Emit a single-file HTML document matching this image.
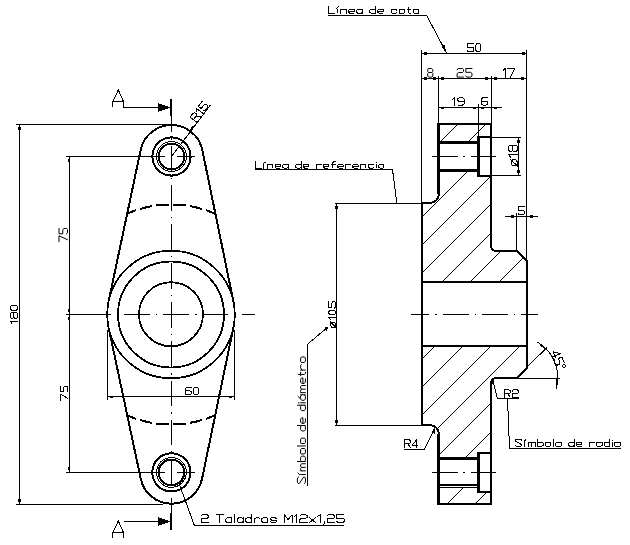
<!DOCTYPE html>
<html><head><meta charset="utf-8"><style>
html,body{margin:0;padding:0;background:#fff;}
svg{display:block;}
text{font-family:"Liberation Sans",sans-serif;fill:#000;stroke:none;}
</style></head><body>
<svg width="630" height="545" viewBox="0 0 630 545" stroke="#000" stroke-linecap="butt" shape-rendering="crispEdges">
<circle cx="171.0" cy="314.5" r="63.75" stroke-width="1.8" fill="none" />
<circle cx="171.0" cy="314.5" r="53" stroke-width="1.8" fill="none" />
<circle cx="171.0" cy="314.25" r="32" stroke-width="1.8" fill="none" />
<circle cx="171.5" cy="156.5" r="19.1" stroke-width="2" fill="none" />
<circle cx="171.5" cy="156.5" r="12.8" stroke-width="2" fill="none" />
<circle cx="171.5" cy="156.5" r="14.9" stroke-width="1" fill="none" />
<circle cx="171.4" cy="472.4" r="19.1" stroke-width="2" fill="none" />
<circle cx="171.4" cy="472.4" r="12.8" stroke-width="2" fill="none" />
<circle cx="171.4" cy="472.4" r="14.9" stroke-width="1" fill="none" />
<path d="M108.63,301.29 L140.68,149.97 A31.5,31.5 0 0 1 202.36,150.17 L233.45,301.69" stroke-width="2" fill="none" stroke-linejoin="round"/>
<path d="M108.64,327.76 L140.78,478.91 A31.3,31.3 0 0 0 202.05,478.75 L233.42,327.44" stroke-width="2" fill="none" stroke-linejoin="round"/>
<path d="M127.21,213.59 A110,110 0 0 1 215.43,213.87" stroke-width="2" fill="none" stroke-dasharray="12.5 4.2" stroke-dashoffset="2.96"/>
<path d="M127.29,415.44 A110,110 0 0 0 215.22,415.22" stroke-width="2" fill="none" stroke-dasharray="12.5 4.2" stroke-dashoffset="3.05"/>
<line x1="171.5" y1="115.5" x2="171.5" y2="513.5" stroke-width="1" stroke-dasharray="25.6 6 1.5 6" stroke-dashoffset="8.7"/>
<line x1="171" y1="99" x2="171" y2="115.5" stroke-width="2" />
<line x1="171" y1="513.3" x2="171" y2="529.8" stroke-width="2" />
<line x1="65.6" y1="314.5" x2="108" y2="314.5" stroke-width="1" />
<line x1="107" y1="314.5" x2="255" y2="314.5" stroke-width="1" stroke-dasharray="25.6 6 1.5 6" stroke-dashoffset="21.8"/>
<line x1="66" y1="156.5" x2="165" y2="156.5" stroke-width="1" />
<line x1="177" y1="156.5" x2="195" y2="156.5" stroke-width="1" />
<line x1="66" y1="472.5" x2="165" y2="472.5" stroke-width="1" />
<line x1="177" y1="472.5" x2="195" y2="472.5" stroke-width="1" />
<line x1="16" y1="124.5" x2="171" y2="124.5" stroke-width="1" />
<line x1="16" y1="504.5" x2="163" y2="504.5" stroke-width="1" />
<line x1="19.5" y1="124.5" x2="19.5" y2="504.5" stroke-width="1" />
<rect x="18" y="127" width="3" height="3" fill="#000" stroke="none"/>
<rect x="18" y="499" width="3" height="3" fill="#000" stroke="none"/>
<line x1="69.5" y1="156.5" x2="69.5" y2="472.5" stroke-width="1" />
<rect x="68" y="159" width="2" height="3" fill="#000" stroke="none"/>
<rect x="68" y="309" width="2" height="3" fill="#000" stroke="none"/>
<rect x="68" y="317" width="2" height="3" fill="#000" stroke="none"/>
<rect x="68" y="467" width="2" height="3" fill="#000" stroke="none"/>
<line x1="107.5" y1="330" x2="107.5" y2="400" stroke-width="1" />
<line x1="234.5" y1="330" x2="234.5" y2="400" stroke-width="1" />
<line x1="107.5" y1="396.5" x2="234.5" y2="396.5" stroke-width="1" />
<rect x="110" y="396" width="3" height="2" fill="#000" stroke="none"/>
<rect x="229" y="396" width="3" height="2" fill="#000" stroke="none"/>
<line x1="171.5" y1="156.5" x2="210.5" y2="105" stroke-width="1" />
<line x1="190.5" y1="130.5" x2="193.5" y2="126.5" stroke-width="2" />
<path d="M112.5,106.5 V101.5 H123.5 M112.8,101.5 L118.3,90 L123.5,101.5 V107.5 H158" stroke-width="1" fill="none" />
<polygon points="158.00,103.00 161.00,104.20 170.50,107.50 161.00,110.80 158.00,112.00" fill="#000" stroke="none"/>
<path d="M112.5,537.5 V532.5 H123.5 M112.8,532.5 L118.3,521 L123.5,532.5 V537.5 M123.5,521.5 H158" stroke-width="1" fill="none" />
<polygon points="158.00,517.00 161.00,518.20 170.50,521.50 161.00,524.80 158.00,526.00" fill="#000" stroke="none"/>
<path d="M179.6,485 L194.4,525.5 H344" stroke-width="1" fill="none" />
<path d="M439,124 H491 V246 A5,5 0 0 0 496,251 H517 L527,261 V368 L517,378 H496 A5,5 0 0 0 491,383 V504 H439 V434.2 A9.2,9.2 0 0 0 429.8,425 H422 V203 H429.8 A9.2,9.2 0 0 0 439,193.8 Z" stroke-width="2" fill="none" stroke-linejoin="miter"/>
<line x1="422" y1="282" x2="527" y2="282" stroke-width="2" />
<line x1="422" y1="346" x2="527" y2="346" stroke-width="2" />
<path d="M491,137 H478 V176 H491" stroke-width="2" fill="none" stroke-linejoin="miter"/>
<line x1="438" y1="142.5" x2="478" y2="142.5" stroke-width="3" />
<line x1="438" y1="170.5" x2="478" y2="170.5" stroke-width="3" />
<line x1="478.5" y1="136" x2="478.5" y2="177" stroke-width="3" />
<path d="M491,453 H478 V492 H491" stroke-width="2" fill="none" stroke-linejoin="miter"/>
<line x1="438" y1="458.5" x2="478" y2="458.5" stroke-width="3" />
<line x1="438" y1="485" x2="478" y2="485" stroke-width="2" />
<line x1="478.5" y1="452" x2="478.5" y2="493" stroke-width="3" />
<line x1="439" y1="487.5" x2="478" y2="487.5" stroke-width="1" />
<line x1="437.5" y1="123" x2="437.5" y2="194" stroke-width="1" />
<line x1="437.5" y1="434" x2="437.5" y2="505" stroke-width="1" />
<clipPath id="hc"><path d="M439,124 H491 V137 H478 V142 H439 Z M439,170 H478 V176 H491 V246 A5,5 0 0 0 496,251 H517 L527,261 V282 H422 V203 H429.8 A9.2,9.2 0 0 0 439,193.8 Z M422,346 H527 V368 L517,378 H496 A5,5 0 0 0 491,383 V453 H478 V458 H439 V434.2 A9.2,9.2 0 0 0 429.8,425 H422 Z M439,487 H478 V492 H491 V504 H439 Z"/></clipPath>
<path d="M400,125.00 L560,-35.00 M400,153.00 L560,-7.00 M400,182.00 L560,22.00 M400,210.00 L560,50.00 M400,239.00 L560,79.00 M400,267.00 L560,107.00 M400,295.00 L560,135.00 M400,324.00 L560,164.00 M400,352.00 L560,192.00 M400,381.00 L560,221.00 M400,409.00 L560,249.00 M400,437.00 L560,277.00 M400,466.00 L560,306.00 M400,494.00 L560,334.00 M400,523.00 L560,363.00 M400,551.00 L560,391.00 M400,579.00 L560,419.00 M400,608.00 L560,448.00" stroke-width="1" fill="none" clip-path="url(#hc)"/>
<line x1="411.2" y1="314.5" x2="538" y2="314.5" stroke-width="1" stroke-dasharray="25.6 6 1.5 6" stroke-dashoffset="7.4"/>
<line x1="432" y1="156.5" x2="497" y2="156.5" stroke-width="1" stroke-dasharray="25.8 5.2 2.4 5.2"/>
<line x1="432" y1="472.5" x2="497" y2="472.5" stroke-width="1" stroke-dasharray="25.8 5.2 2.4 5.2"/>
<line x1="421.5" y1="50" x2="421.5" y2="203" stroke-width="1" />
<line x1="438.5" y1="76" x2="438.5" y2="124" stroke-width="1" />
<line x1="478.5" y1="104" x2="478.5" y2="137" stroke-width="1" />
<line x1="491.5" y1="76" x2="491.5" y2="124" stroke-width="1" />
<line x1="526.5" y1="50" x2="526.5" y2="261" stroke-width="1" />
<line x1="516.5" y1="213" x2="516.5" y2="251" stroke-width="1" />
<line x1="421" y1="53.5" x2="527" y2="53.5" stroke-width="1" />
<rect x="424" y="52" width="3" height="3" fill="#000" stroke="none"/>
<rect x="522" y="52" width="3" height="3" fill="#000" stroke="none"/>
<line x1="421" y1="78.5" x2="527" y2="78.5" stroke-width="1" />
<rect x="424" y="77" width="3" height="3" fill="#000" stroke="none"/>
<rect x="433" y="77" width="3" height="3" fill="#000" stroke="none"/>
<rect x="441" y="77" width="3" height="3" fill="#000" stroke="none"/>
<rect x="485" y="77" width="3" height="3" fill="#000" stroke="none"/>
<rect x="494" y="77" width="3" height="3" fill="#000" stroke="none"/>
<rect x="521" y="77" width="3" height="3" fill="#000" stroke="none"/>
<line x1="438" y1="107.5" x2="502" y2="107.5" stroke-width="1" />
<rect x="441" y="106.5" width="3" height="2" fill="#000" stroke="none"/>
<rect x="473" y="106.5" width="3" height="2" fill="#000" stroke="none"/>
<rect x="481" y="106.5" width="3" height="2" fill="#000" stroke="none"/>
<rect x="494" y="106.5" width="3" height="2" fill="#000" stroke="none"/>
<path d="M328,15.5 H426.7 L446.5,53" stroke-width="1" fill="none" />
<polygon points="441.50,46.00 446.50,53.50 444.50,44.50" fill="#000" stroke="none"/>
<line x1="491" y1="137.5" x2="521" y2="137.5" stroke-width="1" />
<line x1="491" y1="175.5" x2="521" y2="175.5" stroke-width="1" />
<line x1="518.5" y1="137.5" x2="518.5" y2="175.5" stroke-width="1" />
<rect x="517" y="140" width="3" height="3" fill="#000" stroke="none"/>
<rect x="517" y="170" width="3" height="3" fill="#000" stroke="none"/>
<line x1="505" y1="216.5" x2="538" y2="216.5" stroke-width="1" />
<rect x="511" y="215" width="3" height="3" fill="#000" stroke="none"/>
<rect x="530" y="215" width="3" height="3" fill="#000" stroke="none"/>
<line x1="334.5" y1="203.5" x2="422" y2="203.5" stroke-width="1" />
<line x1="334.5" y1="425.5" x2="422" y2="425.5" stroke-width="1" />
<line x1="336.5" y1="203.5" x2="336.5" y2="425.5" stroke-width="1" />
<rect x="335" y="206" width="3" height="3" fill="#000" stroke="none"/>
<rect x="335" y="420" width="3" height="3" fill="#000" stroke="none"/>
<path d="M254.8,169.5 H392.5 L396.8,203" stroke-width="1" fill="none" />
<path d="M326.4,328.4 L307.5,344.2 V485.5" stroke-width="1" fill="none" />
<polygon points="324.50,327.50 328.50,326.50 326.50,330.50" fill="#000" stroke="none"/>
<path d="M404,449.5 H424.4 L434.7,428.1" stroke-width="1" fill="none" />
<polygon points="431.50,432.00 435.00,427.50 434.50,433.50" fill="#000" stroke="none"/>
<path d="M492.5,379 L497.4,398.5 H519" stroke-width="1" fill="none" />
<polygon points="491.50,378.50 493.50,378.50 494.00,384.00 492.50,384.00" fill="#000" stroke="none"/>
<path d="M507.5,398.5 L509.5,448.5 H621" stroke-width="1" fill="none" />
<line x1="527" y1="367" x2="547" y2="347.5" stroke-width="1" />
<line x1="517" y1="378.5" x2="560" y2="378.5" stroke-width="1" />
<path d="M537.5,342.2 A40.5,40.5 0 0 1 556.1,388.5" stroke-width="1" fill="none" />
<polygon points="540.00,343.20 546.30,348.60 544.60,349.20 539.60,345.00" fill="#000" stroke="none"/>
<polygon points="556.00,379.20 558.00,379.20 558.20,385.00 556.20,385.00" fill="#000" stroke="none"/>
<path transform="translate(17.5,323.5) rotate(-90) scale(1.1111,0.7778) translate(0,-9)" d="M 0,1.8 L 2,0 V 9 M 5.6,0 H 8.9 L 9.9,1 V 3.1 L 8.9,4.2 H 5.6 L 4.6,3.1 V 1 Z M 5.6,4.2 L 4.5,5.3 V 7.9 L 5.6,9 H 8.9 L 10,7.9 V 5.3 L 8.9,4.2 M 13.2,0 H 15 L 16.2,1.5 V 7.5 L 15,9 H 13.2 L 12,7.5 V 1.5 Z" fill="none" stroke-width="1.0" vector-effect="non-scaling-stroke" stroke-linejoin="round" stroke-linecap="round"/>
<path transform="translate(67.5,241.7) rotate(-90) scale(0.9103,0.9444) translate(0,-9)" d="M 0,0 H 6.5 L 2.2,9 M 14.5,0 H 8.7 V 4 H 13.3 L 14.5,5.2 V 7.8 L 13.3,9 H 9.7 L 8.5,7.8" fill="none" stroke-width="1.0" vector-effect="non-scaling-stroke" stroke-linejoin="round" stroke-linecap="round"/>
<path transform="translate(67.8,400.5) rotate(-90) scale(1.0000,0.8111) translate(0,-9)" d="M 0,0 H 6.5 L 2.2,9 M 14.5,0 H 8.7 V 4 H 13.3 L 14.5,5.2 V 7.8 L 13.3,9 H 9.7 L 8.5,7.8" fill="none" stroke-width="1.0" vector-effect="non-scaling-stroke" stroke-linejoin="round" stroke-linecap="round"/>
<path transform="translate(185.1,394.9) rotate(0) scale(1.1538,0.8556) translate(0,-9)" d="M 5.2,0.6 L 4.5,0 H 1.5 L 0,1.5 V 7.8 L 1.2,9 H 4.3 L 5.5,7.8 V 5.4 L 4.3,4.2 H 0 M 8.7,0 H 10.5 L 11.7,1.5 V 7.5 L 10.5,9 H 8.7 L 7.5,7.5 V 1.5 Z" fill="none" stroke-width="1.0" vector-effect="non-scaling-stroke" stroke-linejoin="round" stroke-linecap="round"/>
<path transform="translate(201.1,522.5) rotate(0) scale(1.2013,0.8667) translate(0,-9)" d="M 0,1.5 L 1,0 H 5 L 6,1 V 3.2 L 5,4.2 H 1.2 L 0,5.4 V 9 H 6 M 12.6,0 H 18.6 M 15.6,0 V 9 M 25.6,3.6 V 9 M 25.6,4.8 L 24.4,3.6 H 21.8 L 20.6,4.8 V 7.8 L 21.8,9 H 24.4 L 25.6,7.8 M 27.9,0 V 9 M 35.1,3.6 V 9 M 35.1,4.8 L 33.9,3.6 H 31.3 L 30.1,4.8 V 7.8 L 31.3,9 H 33.9 L 35.1,7.8 M 42.1,0 V 9 M 42.1,4.8 L 40.9,3.6 H 38.3 L 37.1,4.8 V 7.8 L 38.3,9 H 40.9 L 42.1,7.8 M 44.1,3.6 V 9 M 44.1,5.2 L 45.7,3.6 H 47.7 L 48.6,4.4 M 51.6,3.6 H 54.6 L 55.6,4.6 V 8 L 54.6,9 H 51.6 L 50.6,8 V 4.6 Z M 62.6,4.5 L 61.6,3.6 H 58.6 L 57.6,4.5 V 5.4 L 58.6,6.2 H 61.6 L 62.6,7 V 8.1 L 61.6,9 H 58.6 L 57.6,8.1 M 69.2,9 V 0 L 72.4,5.5 L 75.7,0 V 9 M 77.7,1.8 L 79.7,0 V 9 M 82.2,1.5 L 83.2,0 H 87.2 L 88.2,1 V 3.2 L 87.2,4.2 H 83.4 L 82.2,5.4 V 9 H 88.2 M 90.2,3.6 L 95.2,9 M 95.2,3.6 L 90.2,9 M 97.2,1.8 L 99.2,0 V 9 M 103,7.8 V 9.6 L 102,11 M 105,1.5 L 106,0 H 110 L 111,1 V 3.2 L 110,4.2 H 106 L 105,5.4 V 9 H 111 M 119,0 H 113 V 4 H 118 L 119,5.2 V 7.8 L 118,9 H 114 L 113,7.8" fill="none" stroke-width="1.0" vector-effect="non-scaling-stroke" stroke-linejoin="round" stroke-linecap="round"/>
<path transform="translate(328.8,13.4) rotate(0) scale(1.1362,0.7889) translate(0,-9)" d="M 0,0 V 9 H 5 M 7.25,3.6 V 9 M 7,2.6 L 8.6,0.6 M 10.6,3.6 V 9 M 10.6,4.8 L 11.8,3.6 H 14.4 L 15.6,4.8 V 9 M 17.6,6.2 H 22.6 V 4.8 L 21.4,3.6 H 18.8 L 17.6,4.8 V 7.8 L 18.8,9 H 21.8 M 29.6,3.6 V 9 M 29.6,4.8 L 28.4,3.6 H 25.8 L 24.6,4.8 V 7.8 L 25.8,9 H 28.4 L 29.6,7.8 M 41.2,0 V 9 M 41.2,4.8 L 40,3.6 H 37.4 L 36.2,4.8 V 7.8 L 37.4,9 H 40 L 41.2,7.8 M 43.2,6.2 H 48.2 V 4.8 L 47,3.6 H 44.4 L 43.2,4.8 V 7.8 L 44.4,9 H 47.4 M 59.8,4.8 L 58.6,3.6 H 56 L 54.8,4.8 V 7.8 L 56,9 H 58.6 L 59.8,7.8 M 62.8,3.6 H 65.8 L 66.8,4.6 V 8 L 65.8,9 H 62.8 L 61.8,8 V 4.6 Z M 70,1 V 7.9 L 71,9 H 72.3 M 68.8,3.6 H 72.3 M 79.3,3.6 V 9 M 79.3,4.8 L 78.1,3.6 H 75.5 L 74.3,4.8 V 7.8 L 75.5,9 H 78.1 L 79.3,7.8" fill="none" stroke-width="1.0" vector-effect="non-scaling-stroke" stroke-linejoin="round" stroke-linecap="round"/>
<path transform="translate(467.2,51.9) rotate(0) scale(1.0902,0.9444) translate(0,-9)" d="M 6,0 H 0.2 V 4 H 4.8 L 6,5.2 V 7.8 L 4.8,9 H 1.2 L 0,7.8 M 9.2,0 H 11 L 12.2,1.5 V 7.5 L 11,9 H 9.2 L 8,7.5 V 1.5 Z" fill="none" stroke-width="1.0" vector-effect="non-scaling-stroke" stroke-linejoin="round" stroke-linecap="round"/>
<path transform="translate(427.7,77.1) rotate(0) scale(0.9273,0.9556) translate(0,-9)" d="M 1.1,0 H 4.4 L 5.4,1 V 3.1 L 4.4,4.2 H 1.1 L 0.1,3.1 V 1 Z M 1.1,4.2 L 0,5.3 V 7.9 L 1.1,9 H 4.4 L 5.5,7.9 V 5.3 L 4.4,4.2" fill="none" stroke-width="1.0" vector-effect="non-scaling-stroke" stroke-linejoin="round" stroke-linecap="round"/>
<path transform="translate(457.1,77.1) rotate(0) scale(1.0643,0.9556) translate(0,-9)" d="M 0,1.5 L 1,0 H 5 L 6,1 V 3.2 L 5,4.2 H 1.2 L 0,5.4 V 9 H 6 M 14,0 H 8.2 V 4 H 12.8 L 14,5.2 V 7.8 L 12.8,9 H 9.2 L 8,7.8" fill="none" stroke-width="1.0" vector-effect="non-scaling-stroke" stroke-linejoin="round" stroke-linecap="round"/>
<path transform="translate(503.0,77.3) rotate(0) scale(1.0818,0.9667) translate(0,-9)" d="M 0,1.8 L 2,0 V 9 M 4.5,0 H 11 L 6.7,9" fill="none" stroke-width="1.0" vector-effect="non-scaling-stroke" stroke-linejoin="round" stroke-linecap="round"/>
<path transform="translate(452.2,105.1) rotate(0) scale(1.1900,0.7889) translate(0,-9)" d="M 0,1.8 L 2,0 V 9 M 10,4.2 H 5.7 L 4.5,3 V 1.2 L 5.7,0 H 8.8 L 10,1.2 V 7.5 L 8.5,9 H 5.5" fill="none" stroke-width="1.0" vector-effect="non-scaling-stroke" stroke-linejoin="round" stroke-linecap="round"/>
<path transform="translate(481.3,105.0) rotate(0) scale(1.2000,0.8333) translate(0,-9)" d="M 5.2,0.6 L 4.5,0 H 1.5 L 0,1.5 V 7.8 L 1.2,9 H 4.3 L 5.5,7.8 V 5.4 L 4.3,4.2 H 0" fill="none" stroke-width="1.0" vector-effect="non-scaling-stroke" stroke-linejoin="round" stroke-linecap="round"/>
<path transform="translate(517.2,166.3) rotate(-90) scale(1.2045,0.9333) translate(0,-9)" d="M 1.8,2.6 H 3.8 L 5.3,4.1 V 7.5 L 3.8,9 H 1.8 L 0.3,7.5 V 4.1 Z M 0,9.8 L 5.6,1.8 M 7.6,1.8 L 9.6,0 V 9 M 13.2,0 H 16.5 L 17.5,1 V 3.1 L 16.5,4.2 H 13.2 L 12.2,3.1 V 1 Z M 13.2,4.2 L 12.1,5.3 V 7.9 L 13.2,9 H 16.5 L 17.6,7.9 V 5.3 L 16.5,4.2" fill="none" stroke-width="1.0" vector-effect="non-scaling-stroke" stroke-linejoin="round" stroke-linecap="round"/>
<path transform="translate(518.3,214.9) rotate(0) scale(1.0333,0.9444) translate(0,-9)" d="M 6,0 H 0.2 V 4 H 4.8 L 6,5.2 V 7.8 L 4.8,9 H 1.2 L 0,7.8" fill="none" stroke-width="1.0" vector-effect="non-scaling-stroke" stroke-linejoin="round" stroke-linecap="round"/>
<path transform="translate(255.7,168.1) rotate(0) scale(1.1049,0.7111) translate(0,-9)" d="M 0,0 V 9 H 5 M 7.25,3.6 V 9 M 7,2.6 L 8.6,0.6 M 10.6,3.6 V 9 M 10.6,4.8 L 11.8,3.6 H 14.4 L 15.6,4.8 V 9 M 17.6,6.2 H 22.6 V 4.8 L 21.4,3.6 H 18.8 L 17.6,4.8 V 7.8 L 18.8,9 H 21.8 M 29.6,3.6 V 9 M 29.6,4.8 L 28.4,3.6 H 25.8 L 24.6,4.8 V 7.8 L 25.8,9 H 28.4 L 29.6,7.8 M 41.2,0 V 9 M 41.2,4.8 L 40,3.6 H 37.4 L 36.2,4.8 V 7.8 L 37.4,9 H 40 L 41.2,7.8 M 43.2,6.2 H 48.2 V 4.8 L 47,3.6 H 44.4 L 43.2,4.8 V 7.8 L 44.4,9 H 47.4 M 54.8,3.6 V 9 M 54.8,5.2 L 56.4,3.6 H 58.4 L 59.3,4.4 M 61.3,6.2 H 66.3 V 4.8 L 65.1,3.6 H 62.5 L 61.3,4.8 V 7.8 L 62.5,9 H 65.5 M 72.3,0.2 L 71.9,0 H 70.9 L 69.9,1 V 9 M 68.3,3.6 H 71.9 M 74.3,6.2 H 79.3 V 4.8 L 78.1,3.6 H 75.5 L 74.3,4.8 V 7.8 L 75.5,9 H 78.5 M 81.3,3.6 V 9 M 81.3,5.2 L 82.9,3.6 H 84.9 L 85.8,4.4 M 87.8,6.2 H 92.8 V 4.8 L 91.6,3.6 H 89 L 87.8,4.8 V 7.8 L 89,9 H 92 M 94.8,3.6 V 9 M 94.8,4.8 L 96,3.6 H 98.6 L 99.8,4.8 V 9 M 107,4.8 L 106,3.6 H 103 L 102,4.8 V 7.8 L 103,9 H 106 L 107,7.8 M 109,3.6 V 9 M 109,1.2 V 2 M 116,3.6 V 9 M 116,4.8 L 115,3.6 H 113 L 111,4.8 V 7.8 L 113,9 H 115 L 116,7.8" fill="none" stroke-width="1.0" vector-effect="non-scaling-stroke" stroke-linejoin="round" stroke-linecap="round"/>
<path transform="translate(335.6,327.9) rotate(-90) scale(1.0823,0.7444) translate(0,-9)" d="M 1.8,2.6 H 3.8 L 5.3,4.1 V 7.5 L 3.8,9 H 1.8 L 0.3,7.5 V 4.1 Z M 0,9.8 L 5.6,1.8 M 7.6,1.8 L 9.6,0 V 9 M 13.3,0 H 15.1 L 16.3,1.5 V 7.5 L 15.1,9 H 13.3 L 12.1,7.5 V 1.5 Z M 24.3,0 H 18.5 V 4 H 23.1 L 24.3,5.2 V 7.8 L 23.1,9 H 19.5 L 18.3,7.8" fill="none" stroke-width="1.0" vector-effect="non-scaling-stroke" stroke-linejoin="round" stroke-linecap="round"/>
<path transform="translate(305.4,483.5) rotate(-90) scale(1.0907,0.8889) translate(0,-9)" d="M 6,1.4 L 5,0 H 1 L 0,1 V 2.2 L 6,7 V 8 L 5,9 H 1 L 0,8 M 8.25,3.6 V 9 M 8,2.6 L 9.6,0.6 M 11.6,3.6 V 9 M 11.6,4.6 L 12.6,3.6 H 13.9 L 14.8,4.6 V 9 M 14.8,4.6 L 15.8,3.6 H 17.1 L 18.1,4.6 V 9 M 20.1,0 V 9 M 20.1,4.8 L 21.3,3.6 H 23.9 L 25.1,4.8 V 7.8 L 23.9,9 H 21.3 L 20.1,7.8 M 28.1,3.6 H 31.1 L 32.1,4.6 V 8 L 31.1,9 H 28.1 L 27.1,8 V 4.6 Z M 34.4,0 V 9 M 37.6,3.6 H 40.6 L 41.6,4.6 V 8 L 40.6,9 H 37.6 L 36.6,8 V 4.6 Z M 53.2,0 V 9 M 53.2,4.8 L 52,3.6 H 49.4 L 48.2,4.8 V 7.8 L 49.4,9 H 52 L 53.2,7.8 M 55.2,6.2 H 60.2 V 4.8 L 59,3.6 H 56.4 L 55.2,4.8 V 7.8 L 56.4,9 H 59.4 M 71.8,0 V 9 M 71.8,4.8 L 70.6,3.6 H 68 L 66.8,4.8 V 7.8 L 68,9 H 70.6 L 71.8,7.8 M 74,3.6 V 9 M 74,1.2 V 2 M 81.3,3.6 V 9 M 81.3,4.8 L 80.1,3.6 H 77.5 L 76.3,4.8 V 7.8 L 77.5,9 H 80.1 L 81.3,7.8 M 78.3,2.6 L 79.9,0.6 M 83.3,3.6 V 9 M 83.3,4.6 L 84.3,3.6 H 85.6 L 86.5,4.6 V 9 M 86.5,4.6 L 87.5,3.6 H 88.8 L 89.8,4.6 V 9 M 91.8,6.2 H 96.8 V 4.8 L 95.6,3.6 H 93 L 91.8,4.8 V 7.8 L 93,9 H 96 M 100,1 V 7.9 L 101,9 H 102 M 98.8,3.6 H 102 M 104,3.6 V 9 M 104,5.2 L 106,3.6 H 108 L 109,4.4 M 112,3.6 H 115 L 116,4.6 V 8 L 115,9 H 112 L 111,8 V 4.6 Z" fill="none" stroke-width="1.0" vector-effect="non-scaling-stroke" stroke-linejoin="round" stroke-linecap="round"/>
<path transform="translate(404.6,447.4) rotate(0) scale(0.9928,0.8556) translate(0,-9)" d="M 0,9 V 0 H 4.6 L 5.8,1.2 V 3.4 L 4.6,4.6 H 0 M 3.2,4.6 L 5.8,9 M 12.3,9 V 0 L 7.8,6.2 H 13.8" fill="none" stroke-width="1.0" vector-effect="non-scaling-stroke" stroke-linejoin="round" stroke-linecap="round"/>
<path transform="translate(504.3,397.1) rotate(0) scale(1.0217,0.8000) translate(0,-9)" d="M 0,9 V 0 H 4.6 L 5.8,1.2 V 3.4 L 4.6,4.6 H 0 M 3.2,4.6 L 5.8,9 M 7.8,1.5 L 8.8,0 H 12.8 L 13.8,1 V 3.2 L 12.8,4.2 H 9 L 7.8,5.4 V 9 H 13.8" fill="none" stroke-width="1.0" vector-effect="non-scaling-stroke" stroke-linejoin="round" stroke-linecap="round"/>
<path transform="translate(515.2,446.4) rotate(0) scale(1.1086,0.7889) translate(0,-9)" d="M 6,1.4 L 5,0 H 1 L 0,1 V 2.2 L 6,7 V 8 L 5,9 H 1 L 0,8 M 8.25,3.6 V 9 M 8,2.6 L 9.6,0.6 M 11.6,3.6 V 9 M 11.6,4.6 L 12.6,3.6 H 13.9 L 14.8,4.6 V 9 M 14.8,4.6 L 15.8,3.6 H 17.1 L 18.1,4.6 V 9 M 20.1,0 V 9 M 20.1,4.8 L 21.3,3.6 H 23.9 L 25.1,4.8 V 7.8 L 23.9,9 H 21.3 L 20.1,7.8 M 28.1,3.6 H 31.1 L 32.1,4.6 V 8 L 31.1,9 H 28.1 L 27.1,8 V 4.6 Z M 34.4,0 V 9 M 37.6,3.6 H 40.6 L 41.6,4.6 V 8 L 40.6,9 H 37.6 L 36.6,8 V 4.6 Z M 53.2,0 V 9 M 53.2,4.8 L 52,3.6 H 49.4 L 48.2,4.8 V 7.8 L 49.4,9 H 52 L 53.2,7.8 M 55.2,6.2 H 60.2 V 4.8 L 59,3.6 H 56.4 L 55.2,4.8 V 7.8 L 56.4,9 H 59.4 M 66.8,3.6 V 9 M 66.8,5.2 L 68.4,3.6 H 70.4 L 71.3,4.4 M 78.3,3.6 V 9 M 78.3,4.8 L 77.1,3.6 H 74.5 L 73.3,4.8 V 7.8 L 74.5,9 H 77.1 L 78.3,7.8 M 85.3,0 V 9 M 85.3,4.8 L 84.1,3.6 H 81.5 L 80.3,4.8 V 7.8 L 81.5,9 H 84.1 L 85.3,7.8 M 87.5,3.6 V 9 M 87.5,1.2 V 2 M 90.8,3.6 H 93.8 L 94.8,4.6 V 8 L 93.8,9 H 90.8 L 89.8,8 V 4.6 Z" fill="none" stroke-width="1.0" vector-effect="non-scaling-stroke" stroke-linejoin="round" stroke-linecap="round"/>
<path transform="translate(196.5,122) rotate(-52.864024795499546) scale(1.0929,0.8889) translate(0,-9)" d="M 0,9 V 0 H 4.6 L 5.8,1.2 V 3.4 L 4.6,4.6 H 0 M 3.2,4.6 L 5.8,9 M 7.8,1.8 L 9.8,0 V 9 M 18.3,0 H 12.5 V 4 H 17.1 L 18.3,5.2 V 7.8 L 17.1,9 H 13.5 L 12.3,7.8" fill="none" stroke-width="1.0" vector-effect="non-scaling-stroke" stroke-linejoin="round" stroke-linecap="round"/>
<path transform="translate(550.7,353) rotate(67.5) scale(0.9778,0.9778) translate(0,-9)" d="M 4.5,9 V 0 L 0,6.2 H 6 M 14,0 H 8.2 V 4 H 12.8 L 14,5.2 V 7.8 L 12.8,9 H 9.2 L 8,7.8 M 17,0 H 18 L 19,1 V 2 L 18,3 H 17 L 16,2 V 1 Z" fill="none" stroke-width="1.0" vector-effect="non-scaling-stroke" stroke-linejoin="round" stroke-linecap="round"/>
</svg>
</body></html>
